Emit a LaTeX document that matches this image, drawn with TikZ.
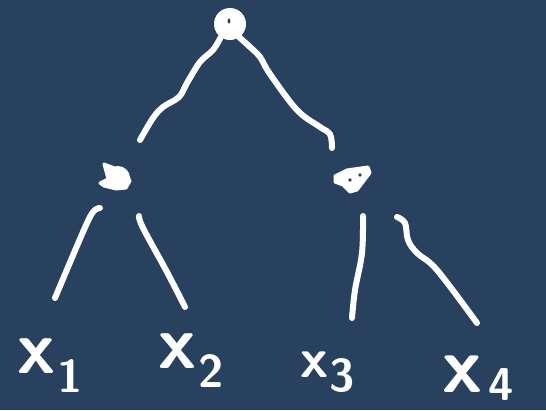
\documentclass[tikz,border=0pt]{standalone}
\usetikzlibrary{calc}
\definecolor{board}{RGB}{39,65,95}
\definecolor{chalk}{RGB}{255,255,255}
\newcommand{\hwlabel}[3]{x\kern#2\raisebox{#3}{\fontsize{46}{46}\selectfont #1}}
\begin{document}
\begin{tikzpicture}[x=1pt,y=-1pt,
  edge/.style={draw=chalk,line width=6pt,line cap=round,line join=round},
  blob/.style={fill=chalk,draw=chalk,line width=3pt,line join=round},
  lab/.style={text=chalk,anchor=base west,inner sep=0pt,
    font=\sffamily\bfseries\fontsize{76}{76}\selectfont}]
  \fill[board] (0,0) rectangle (546,410);
  \useasboundingbox (0,0) rectangle (546,410);

  % tree nodes (scribbled dots)
  \node[circle,fill=chalk,minimum size=32pt,inner sep=0pt] (root) at (230,24) {};
  \fill[board] (229,21) ellipse (1.4pt and 2.6pt);

  \node[circle,fill=chalk,minimum size=24pt,inner sep=0pt] (L) at (118,178) {};
  \draw[blob] (104,164) -- (112,167) -- (126,172) -- (130,181) -- (126,188)
    -- (116,189) -- (104,186) -- (100,183) -- (108,179) -- cycle;

  \node[inner sep=0pt,minimum size=20pt] (R) at (352,179) {};
  \draw[blob] (335,176) -- (347,170) -- (368,167) -- (370,173) -- (357,190)
    -- (350,192) -- (343,185) -- (335,182) -- cycle;
  \fill[board] (360,175) circle (1.8pt) (350,180) circle (1.8pt);

  % free ends of the hand-drawn branches
  \coordinate (a1) at (140,140);
  \coordinate (a2) at (332,148);
  \coordinate (b1) at (100,208);  \coordinate (b2) at (55,298);
  \coordinate (c1) at (139,216);  \coordinate (c2) at (185,307);
  \coordinate (d1) at (363,216);  \coordinate (d2) at (352,318);
  \coordinate (e1) at (397,217);  \coordinate (e2) at (477,323);

  % branches
  \draw[edge] plot[smooth,tension=0.6] coordinates
    {(root.235) (213,50) (200,62) (187,83) (179,97) (163,107) (153,118) (a1)};
  \draw[edge] plot[smooth,tension=0.6] coordinates
    {(root.305) (250,47) (260,57) (270,74) (297,110) (320,127) (330,134) (a2)};
  \draw[edge] plot[smooth,tension=0.6] coordinates
    {(b1) (93,212) (83,232) (b2)};
  \draw[edge] plot[smooth,tension=0.6] coordinates
    {(c1) (143,228) (167,272) (c2)};
  \draw[edge] plot[smooth,tension=0.6] coordinates
    {(d1) (362,253) (355,290) (d2)};
  \draw[edge] plot[smooth,tension=0.6] coordinates
    {(e1) (405,223) (408,240) (417,253) (437,270) (e2)};

  % leaf labels
  \node[lab] (x1) at (17,373) {\hwlabel{1}{2pt}{-19pt}};
  \node[lab] (x2) at (158,368) {\hwlabel{2}{2pt}{-19pt}};
  \node[lab,font=\sffamily\bfseries\fontsize{56}{56}\selectfont] (x3) at (300,377)
    {\hwlabel{3}{1pt}{-14pt}};
  \node[lab,font=\sffamily\bfseries\fontsize{80}{80}\selectfont] (x4) at (442,392)
    {\hwlabel{4}{6pt}{-8pt}};
\end{tikzpicture}
\end{document}
